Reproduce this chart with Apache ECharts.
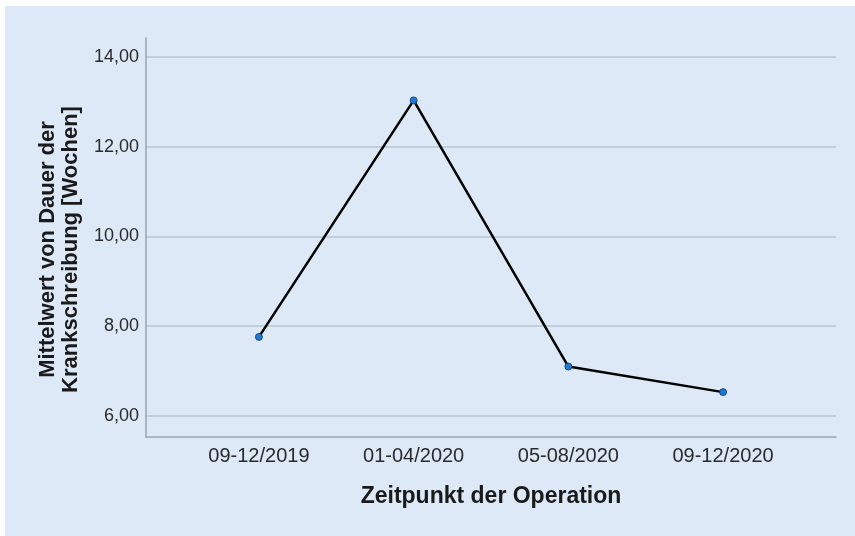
<!DOCTYPE html>
<html>
<head>
<meta charset="utf-8">
<script src="https://cdn.jsdelivr.net/npm/echarts@6/dist/echarts.min.js"></script>
<style>
html,body{margin:0;padding:0;background:#ffffff;}
#wrap{position:absolute;left:5px;top:6px;width:850px;height:530px;background:#dde9f7;}
#chart{position:absolute;left:0;top:0;width:855px;height:536px;}
</style>
</head>
<body>
<div id="wrap"></div>
<div id="chart"></div>
<script>
const categories = ['09-12/2019', '01-04/2020', '05-08/2020', '09-12/2020'];
const meanWeeks = [7.76, 13.03, 7.10, 6.53];
const yTicks = [6, 8, 10, 12, 14];
const xName = 'Zeitpunkt der Operation';
const yName = 'Mittelwert von Dauer der\nKrankschreibung [Wochen]';

const chart = echarts.init(document.getElementById('chart'), null, {renderer: 'canvas'});
const xIdx = categories.map((c, i) => i);

chart.setOption({
  backgroundColor: 'transparent',
  animation: false,
  grid: {left: 146, right: 19, top: 38, bottom: 99, containLabel: false},
  xAxis: {
    type: 'value',
    min: -0.73,
    max: 3.73,
    name: xName,
    nameLocation: 'middle',
    nameGap: 48,
    nameTextStyle: {fontFamily: 'Liberation Sans', fontSize: 23, fontWeight: 'bold', color: '#1a1a1a'},
    axisLine: {show: true, onZero: false, lineStyle: {color: '#9aa3ad', width: 1.5}},
    axisTick: {show: false, customValues: xIdx},
    splitLine: {show: false},
    axisLabel: {
      customValues: xIdx,
      margin: 9,
      fontFamily: 'Liberation Sans', fontSize: 20, color: '#2a2a2a',
      formatter: v => categories[Math.round(v)]
    }
  },
  yAxis: {
    type: 'value',
    min: 5.53,
    max: 14.42,
    name: yName,
    nameLocation: 'middle',
    nameRotate: 90,
    nameGap: 64,
    nameTextStyle: {fontFamily: 'Liberation Sans', fontSize: 22, fontWeight: 'bold', color: '#1a1a1a', lineHeight: 23, padding: [0, 24, 0, 0]},
    axisLine: {show: true, onZero: false, lineStyle: {color: '#9aa3ad', width: 1.5}},
    axisTick: {show: false, customValues: yTicks},
    splitLine: {show: true, lineStyle: {color: '#b9c5d2', width: 1.5}},
    axisLabel: {
      customValues: yTicks,
      margin: 7,
      fontFamily: 'Liberation Sans', fontSize: 18, color: '#2a2a2a',
      formatter: v => v.toFixed(2).replace('.', ',')
    }
  },
  series: [{
    type: 'line',
    data: meanWeeks.map((v, i) => [i, v]),
    lineStyle: {color: '#000000', width: 2.5},
    symbol: 'circle',
    symbolSize: 7,
    itemStyle: {color: '#1f78d1', borderColor: '#0d3b66', borderWidth: 0.8},
    z: 5
  }]
});
</script>
</body>
</html>
